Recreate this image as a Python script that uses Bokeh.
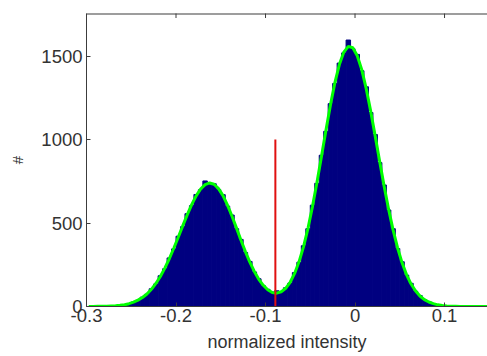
import math
from bokeh.plotting import figure
from bokeh.models import Range1d, FixedTicker, ColumnDataSource, Span, Title
from bokeh.embed import file_html
from bokeh.resources import INLINE

# ---- data ----
bin_start = -0.3
bin_width = 0.005
counts = [0, 0, 1, 2, 1, 3, 5, 6, 12, 16,
          27, 37, 56, 73, 106, 135, 184, 226, 291, 345,
          421, 478, 556, 604, 671, 699, 752, 738, 735, 700,
          670, 601, 548, 466, 402, 324, 270, 207, 166, 124,
          103, 86, 94, 84, 112, 141, 203, 265, 364, 466,
          607, 738, 906, 1049, 1215, 1336, 1458, 1519, 1596, 1544,
          1510, 1412, 1316, 1162, 1030, 862, 728, 578, 466, 347,
          268, 188, 139, 91, 66, 40, 29, 15, 11, 5,
          4, 2, 1, 0, 0, 0, 0, 0, 0, 0]
fit_counts = [0, 0, 1, 1, 2, 3, 4, 7, 11, 17,
              26, 38, 54, 75, 103, 138, 180, 230, 286, 349,
              415, 483, 549, 610, 663, 704, 730, 740, 732, 706,
              664, 607, 542, 471, 398, 329, 266, 210, 163, 127,
              100, 84, 80, 88, 109, 145, 198, 269, 359, 470,
              600, 744, 899, 1056, 1206, 1341, 1449, 1524, 1558, 1550,
              1502, 1419, 1305, 1170, 1022, 870, 721, 583, 459, 352,
              263, 191, 136, 94, 63, 41, 27, 17, 10, 6,
              3, 2, 1, 0, 0, 0, 0, 0, 0, 0]
threshold_x = -0.089
threshold_top = 1000
x_ticks = [-0.3, -0.2, -0.1, 0.0, 0.1]
x_tick_labels = ["-0.3", "-0.2", "-0.1", "0", "0.1"]
y_ticks = [0, 500, 1000, 1500]
x_label = "normalized intensity"
y_label = "#"

x_start, x_end = -0.3, 0.148
y_start, y_end = 0, 1755

left_edges = [bin_start + i * bin_width for i in range(len(counts))]
right_edges = [e + bin_width for e in left_edges]
bars = ColumnDataSource(dict(left=left_edges, right=right_edges, top=counts))
fit_x = [bin_start + (i + 0.5) * bin_width for i in range(len(fit_counts))]
fit = ColumnDataSource(dict(x=fit_x, y=fit_counts))

p = figure(width=487, height=356, output_backend="svg", toolbar_location=None,
           x_range=Range1d(x_start, x_end), y_range=Range1d(y_start, y_end),
           min_border_left=86, min_border_right=0, min_border_top=13, min_border_bottom=48)
p.outline_line_color = None
p.grid.visible = False
p.background_fill_color = "white"
p.border_fill_color = "white"

p.quad(left="left", right="right", bottom=0, top="top", source=bars,
       fill_color="#000080", line_color="#000080", line_width=1)
p.line("x", "y", source=fit, line_color="#00FF00", line_width=3)
p.segment(x0=[threshold_x], y0=[0], x1=[threshold_x], y1=[threshold_top],
          line_color="#E01010", line_width=2)

font = "Liberation Sans"
axis_color = "#3c3c3c"

# top box edge with inward ticks
p.add_layout(Span(location=y_end, dimension="width", line_color=axis_color, line_width=2))
p.scatter(x=x_ticks, y=[y_end] * len(x_ticks), marker="dash", angle=math.pi / 2,
          size=9, line_color=axis_color, line_width=1)

xa = p.xaxis[0]
xa.ticker = FixedTicker(ticks=x_ticks)
xa.major_label_overrides = {t: l for t, l in zip(x_ticks, x_tick_labels)}

ya = p.yaxis[0]
ya.ticker = FixedTicker(ticks=y_ticks)
ya.axis_label = y_label

for ax in [xa, ya]:
    ax.axis_line_color = axis_color
    ax.axis_line_width = 1
    ax.major_tick_line_color = axis_color
    ax.major_tick_in = 4
    ax.major_tick_out = 0
    ax.minor_tick_line_color = None
    ax.major_label_text_font = font
    ax.major_label_text_font_size = "18.5px"
    ax.major_label_text_color = "#333333"
    ax.major_label_standoff = 4
    ax.axis_label_text_font = font
    ax.axis_label_text_font_style = "normal"
    ax.axis_label_text_color = "#333333"
xa.major_label_standoff = 2

ya.axis_label_text_font_size = "15px"
ya.axis_label_standoff = 12

p.add_layout(Title(text=x_label, align="center", offset=2, standoff=10,
                   text_line_height=0.6,
                   text_font=font, text_font_size="18px", text_font_style="normal",
                   text_color="#333333"), "below")

open("out.html", "w").write(file_html(p, INLINE))
